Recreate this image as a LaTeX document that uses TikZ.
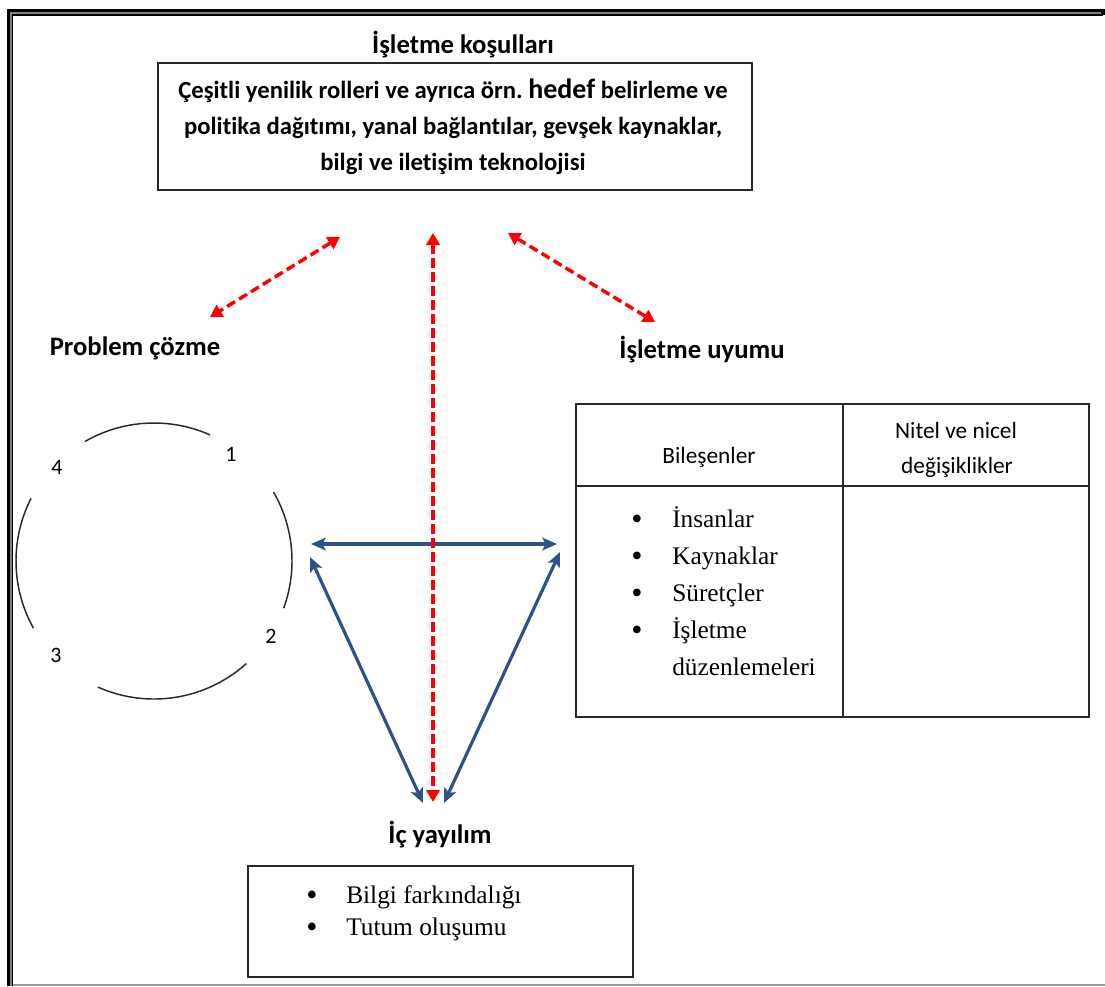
\documentclass[tikz,border=0pt]{standalone}
\usepackage{fontspec}
\setmainfont{Liberation Serif}
\newfontfamily\calfont[Ligatures=NoCommon]{Carlito}
\usetikzlibrary{arrows.meta}
\definecolor{linkblue}{RGB}{44,82,138}
\definecolor{linkred}{RGB}{255,0,0}
\definecolor{rulegray}{RGB}{40,40,40}

\begin{document}
\begin{tikzpicture}[x=0.75pt,y=-0.75pt,
  heading/.style={font=\calfont\bfseries\fontsize{20}{24}\selectfont, inner sep=0, anchor=base},
  boxtext/.style={font=\calfont\bfseries\fontsize{18.5}{27}\selectfont, align=center},
  celltext/.style={font=\calfont\fontsize{17.5}{26}\selectfont, inner sep=0, anchor=base},
  serif/.style={font=\fontsize{19}{23}\selectfont, inner sep=0, anchor=base west},
  dot/.style={font=\fontsize{24}{23}\selectfont, inner sep=0, anchor=base},
  num/.style={font=\calfont\fontsize{16.5}{20}\selectfont, inner sep=0},
  frame/.style={draw=rulegray, line width=1.1pt},
  cell/.style={draw=rulegray, line width=1.1pt, inner sep=0},
  bluelink/.style={draw=linkblue, line width=2.4pt,
    {Stealth[length=11pt,width=9.5pt,inset=2.5pt]}-{Stealth[length=11pt,width=9.5pt,inset=2.5pt]}},
  redlink/.style={draw=linkred, line width=2.6pt, dash pattern=on 7pt off 3.5pt,
    {Triangle[length=9pt,width=10pt]}-{Triangle[length=9pt,width=10pt]}},
  cyclearc/.style={draw=rulegray, line width=1.1pt}
]
\useasboundingbox (0,0) rectangle (1105,986);

% page border
\draw[black, line width=2.3pt] (8.5,986) -- (8.5,10.5) -- (1103,10.5) -- (1103,15);
\draw[gray, line width=0.8pt] (11,986) -- (11,13) -- (1101,13);
\draw[black, line width=0.9pt] (12.8,986) -- (12.8,15) -- (1103,15);
\draw[gray!80, line width=1.1pt] (12.8,985) -- (1105,985);

% operating conditions
\node[heading] (condtitle) at (463,53) {İşletme koşulları};
\node[frame, minimum width=445.5pt, minimum height=95.25pt] (cond) at (455,126.5) {};
\node[boxtext] (condtext) at (453,127) {Çeşitli yenilik rolleri ve ayrıca örn.\ {\fontsize{21}{27}\selectfont hedef} belirleme ve\\politika dağıtımı, yanal bağlantılar, gevşek kaynaklar,\\bilgi ve iletişim teknolojisi};

% side headings
\node[heading] (probtitle) at (135,355) {Problem çözme};
\node[heading] (fittitle) at (702,358) {İşletme uyumu};
\node[heading] (difftitle) at (440,843) {İç yayılım};

% problem solving cycle
\coordinate (cyc) at (154,561);
\draw[cyclearc] (cyc) ++(-66:138) arc[start angle=-66, end angle=-120, radius=138];
\draw[cyclearc] (cyc) ++(20:138) arc[start angle=20, end angle=-30, radius=138];
\draw[cyclearc] (cyc) ++(114:138) arc[start angle=114, end angle=48, radius=138];
\draw[cyclearc] (cyc) ++(-153:138) arc[start angle=-153, end angle=-209, radius=138];
\node[num] (n1) at (231,454) {1};
\node[num] (n2) at (271,636) {2};
\node[num] (n3) at (56,655) {3};
\node[num] (n4) at (57,467) {4};

% fit table
\node[cell, minimum width=200.25pt, minimum height=61.5pt] (comphead) at (709.5,445) {};
\node[cell, minimum width=184.5pt, minimum height=61.5pt] (chghead) at (966,445) {};
\node[cell, minimum width=200.25pt, minimum height=173.25pt] (compbody) at (709.5,601.5) {};
\node[cell, minimum width=184.5pt, minimum height=173.25pt] (chgbody) at (966,601.5) {};
\node[celltext] (complabel) at (709,463) {Bileşenler};
\node[celltext] (chglabel1) at (956,438) {Nitel ve nicel};
\node[celltext] (chglabel2) at (957,473) {değişiklikler};
\node[dot] (b1) at (637,529) {\textbullet};
\node[dot] (b2) at (637,566) {\textbullet};
\node[dot] (b3) at (637,603) {\textbullet};
\node[dot] (b4) at (637,640) {\textbullet};
\node[serif] (i1) at (672,527) {İnsanlar};
\node[serif] (i2) at (672,564) {Kaynaklar};
\node[serif] (i3) at (672,601) {Süretçler};
\node[serif] (i4) at (672,638) {İşletme};
\node[serif] (i5) at (672,675) {düzenlemeleri};

% internal diffusion box
\node[frame, minimum width=288.75pt, minimum height=83.25pt] (diff) at (440.5,921.5) {};
\node[dot] (d1) at (312,905) {\textbullet};
\node[dot] (d2) at (312,937) {\textbullet};
\node[serif] (t1) at (346,903) {Bilgi farkındalığı};
\node[serif] (t2) at (346,935) {Tutum oluşumu};

% connector end points
\coordinate (cycE) at (311,544);
\coordinate (fitW) at (557,544);
\coordinate (cycSE) at (310,557);
\coordinate (fitSW) at (560,552);
\coordinate (diffNW) at (423,803);
\coordinate (diffNE) at (444,803);
\coordinate (condS) at (433,233);
\coordinate (diffN) at (433,802);
\coordinate (condSW) at (340,237);
\coordinate (probNE) at (210,317);
\coordinate (condSE) at (508,233);
\coordinate (fitNW) at (655,322);

% links
\draw[redlink] (condSW) -- (probNE);
\draw[redlink] (condSE) -- (fitNW);
\draw[bluelink] (cycE) -- (fitW);
\draw[bluelink] (cycSE) -- (diffNW);
\draw[bluelink] (fitSW) -- (diffNE);
\draw[redlink] (condS) -- (diffN);
\end{tikzpicture}
\end{document}
